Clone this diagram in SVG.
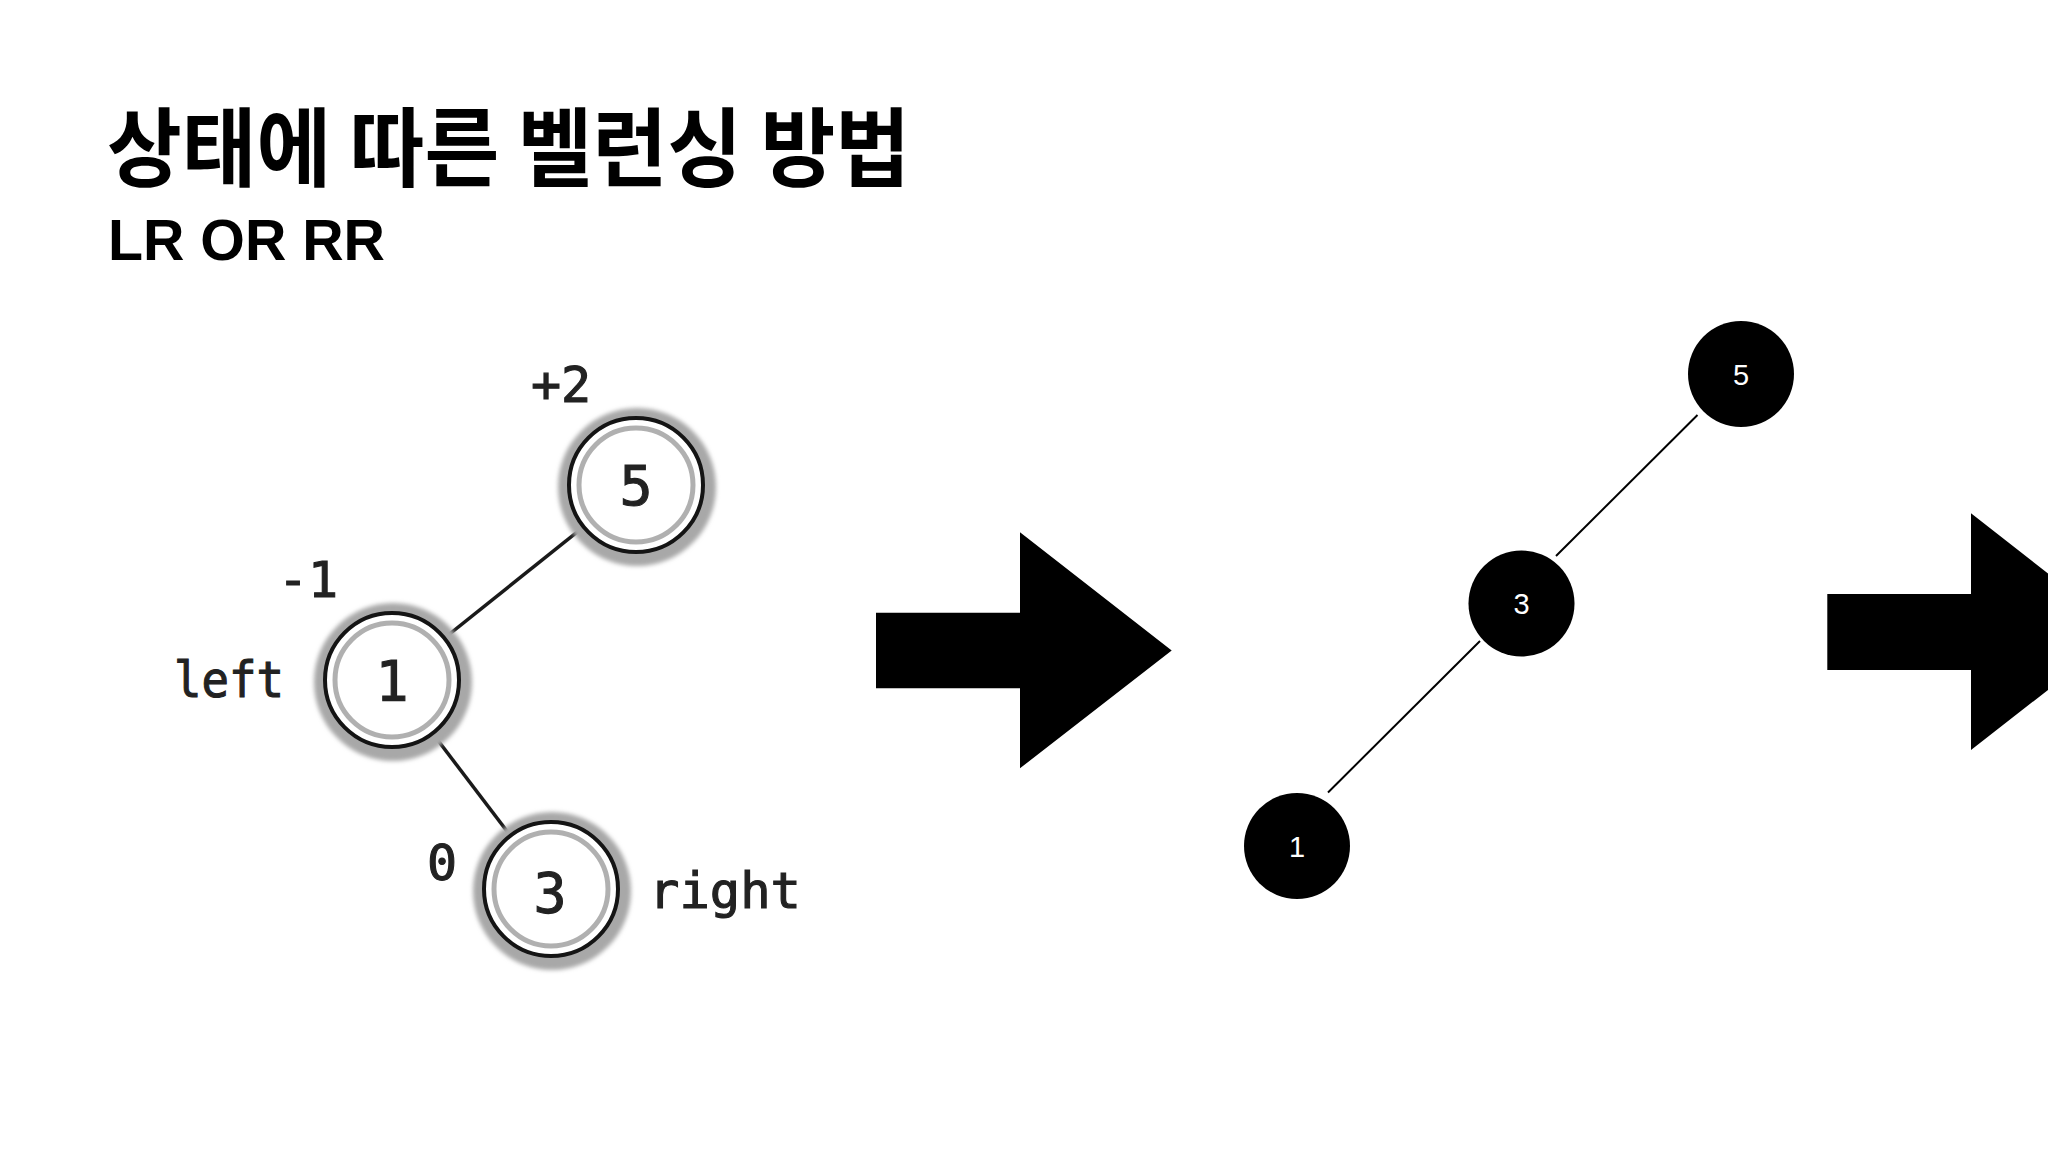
<svg xmlns="http://www.w3.org/2000/svg" width="2048" height="1152" viewBox="0 0 2048 1152">
  <style>
    .title { font-family: "Noto Sans CJK KR", "Noto Sans", sans-serif; font-weight: 700; font-size: 86px; fill: #000; }
    .sub { font-family: "Liberation Sans", Arial, sans-serif; font-weight: 700; font-size: 57px; fill: #000; }
    .mono { font-family: "DejaVu Sans Mono", "Liberation Mono", monospace; fill: #222; stroke: #222; stroke-width: 1.1; }
    .lbl { font-size: 50px; }
    .dig { font-size: 55px; text-anchor: middle; }
    .ring { fill: #fff; stroke: #141414; stroke-width: 4; }
    .inner { fill: none; stroke: #b0b0b0; stroke-width: 5; }
    .halo { fill: #a8a8a8; filter: url(#blur); }
    .edge { stroke: #1a1a1a; stroke-width: 3.5; }
    .bnode { fill: #000; }
    .btxt { font-family: "Liberation Sans", Arial, sans-serif; font-size: 29px; fill: #fff; text-anchor: middle; }
    .bedge { stroke: #000; stroke-width: 2; }
    .arrow { fill: #000; }
  </style>
  <defs>
    <filter id="blur" x="-30%" y="-30%" width="160%" height="160%">
      <feGaussianBlur stdDeviation="2"/>
    </filter>
  </defs>
  <rect width="2048" height="1152" fill="#fff"/>

  <g id="title">
    <text class="title" x="107" y="180" textLength="803" lengthAdjust="spacingAndGlyphs">상태에 따른 벨런싱 방법</text>
    <text class="sub" x="108" y="260" textLength="277" lengthAdjust="spacingAndGlyphs">LR OR RR</text>
  </g>

  <!-- left tree connectors -->
  <g id="left-edges">
    <line class="edge" x1="636" y1="485" x2="392" y2="680"/>
    <line class="edge" x1="392" y1="680" x2="551" y2="889"/>
  </g>

  <g id="left-node-5">
    <circle class="halo" cx="637" cy="487" r="79"/>
    <circle class="ring" cx="636" cy="485" r="67"/>
    <circle class="inner" cx="636" cy="485" r="57"/>
    <text class="mono dig" x="636" y="505">5</text>
    <text class="mono lbl" x="531" y="402">+2</text>
  </g>

  <g id="left-node-1">
    <circle class="halo" cx="393" cy="682" r="79"/>
    <circle class="ring" cx="392" cy="680" r="67"/>
    <circle class="inner" cx="392" cy="680" r="57"/>
    <text class="mono dig" x="392" y="700">1</text>
    <text class="mono lbl" x="278" y="597">-1</text>
    <text class="mono lbl" x="174" y="697" textLength="110" lengthAdjust="spacingAndGlyphs">left</text>
  </g>

  <g id="left-node-3">
    <circle class="halo" cx="552" cy="891" r="79"/>
    <circle class="ring" cx="551" cy="889" r="67"/>
    <circle class="inner" cx="551" cy="889" r="57"/>
    <text class="mono dig" x="550" y="912">3</text>
    <text class="mono lbl" x="427" y="880">0</text>
    <text class="mono lbl" x="649" y="908" textLength="152" lengthAdjust="spacingAndGlyphs">right</text>
  </g>

  <g id="arrow-1">
    <polygon class="arrow" points="876,612.7 1020,612.7 1020,532.3 1171.7,650.5 1020,768.3 1020,688.3 876,688.3"/>
  </g>

  <!-- middle tree connectors -->
  <g id="middle-edges">
    <line class="bedge" x1="1697.5" y1="415" x2="1556" y2="556"/>
    <line class="bedge" x1="1480" y1="641" x2="1328" y2="792.5"/>
  </g>

  <g id="mid-node-5">
    <circle class="bnode" cx="1741" cy="374" r="53"/>
    <text class="btxt" x="1741" y="384.5">5</text>
  </g>
  <g id="mid-node-3">
    <circle class="bnode" cx="1521.5" cy="603.5" r="53"/>
    <text class="btxt" x="1521.5" y="614">3</text>
  </g>
  <g id="mid-node-1">
    <circle class="bnode" cx="1297" cy="846" r="53"/>
    <text class="btxt" x="1297" y="856.5">1</text>
  </g>

  <g id="arrow-2">
    <polygon class="arrow" points="1827.3,594 1971,594 1971,513.3 2122.7,631.7 1971,750 1971,670 1827.3,670"/>
  </g>
</svg>
